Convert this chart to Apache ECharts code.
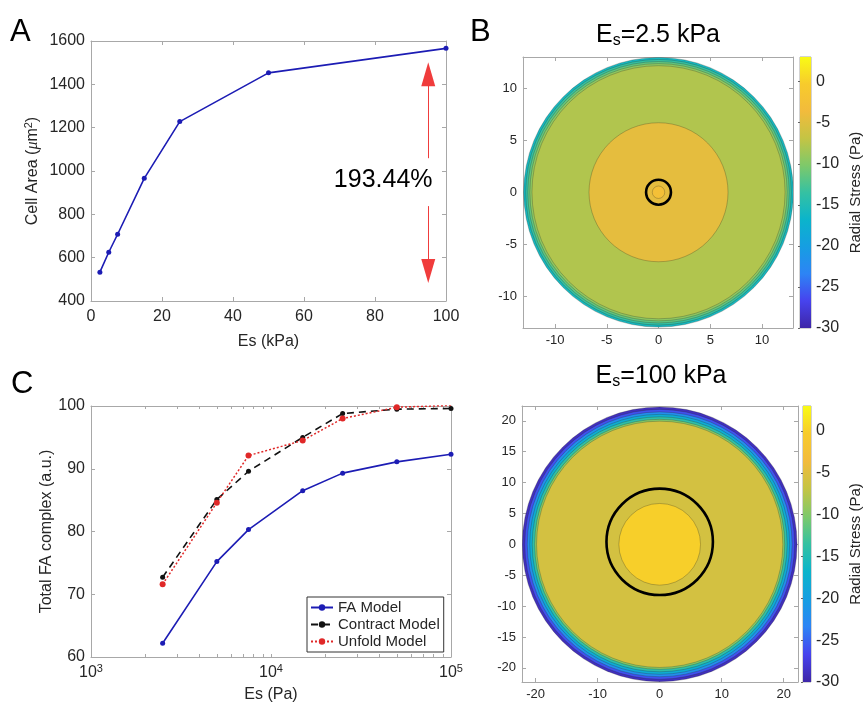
<!DOCTYPE html>
<html>
<head>
<meta charset="utf-8">
<script src="https://cdn.jsdelivr.net/npm/echarts@6/dist/echarts.min.js"></script>
<style>
html,body{margin:0;padding:0;background:#fff;}
#chart{width:864px;height:704px;}
</style>
</head>
<body>
<div id="chart"></div>
<script>
// ---- Data ----
const esKPa = [2.5, 5, 7.5, 15, 25, 50, 100];
const cellArea = [533, 625, 708, 966, 1228, 1453, 1566];
const annotationText = '193.44%';

const esPa = [2500, 5000, 7500, 15000, 25000, 50000, 100000];
const faModel = [62.2, 75.2, 80.3, 86.5, 89.3, 91.1, 92.3];
const contractModel = [72.7, 85.1, 89.6, 95.0, 98.8, 99.5, 99.6];
const unfoldModel = [71.6, 84.6, 92.1, 94.5, 98.0, 99.8, 100.1];
const seriesNamesC = ['FA Model', 'Contract Model', 'Unfold Model'];

// contour rings (disk radius in um, radial stress in Pa), outermost first
const ringRadiusB = [13.0, 12.8, 12.6, 12.4, 12.2, 6.7, 0.6];
const ringStressB = [-16, -13.5, -11.5, -9.5, -7.8, -4.5, -2.6];
const ringRadiusD = [22.2, 21.8, 21.4, 21.0, 20.6, 20.2, 19.9, 6.6];
const ringStressD = [-29, -26, -22, -18, -14, -10, -5.8, 0];
// black outline: [cx, cy, r]
const outlineB = [0, 0, 1.2];
const outlineD = [0, 0.4, 8.6];

const stressRange = [-30, 3];
const colorbarTicks = [0, -5, -10, -15, -20, -25, -30];
const ticksB = [-10, -5, 0, 5, 10];
const ticksDX = [-20, -10, 0, 10, 20];
const ticksDY = [-20, -15, -10, -5, 0, 5, 10, 15, 20];
const logMajorTicks = [1000, 10000, 100000];
const logAllTicks = [1000, 2000, 3000, 4000, 5000, 6000, 7000, 8000, 9000,
  10000, 20000, 30000, 40000, 50000, 60000, 70000, 80000, 90000, 100000];

const parula = ['#3e26a8', '#4743ee', '#2d84f5', '#169ee2', '#0bb4cb', '#35c1a2',
  '#7ec96a', '#c4c444', '#f2bb3c', '#f7cb2c', '#f9fb15'];

// ---- styles ----
const FONT = 'Liberation Sans, Arial, Helvetica, sans-serif';
const gray = '#a8a8a8';
const txt = '#262626';

function baseAxis(grid, extra) {
  return Object.assign({
    gridIndex: grid,
    type: 'value',
    axisLine: { show: true, onZero: false, lineStyle: { color: gray, width: 1 } },
    axisTick: { show: true, inside: true, length: 4, lineStyle: { color: gray } },
    splitLine: { show: false },
    axisLabel: { color: txt, fontSize: 16, fontFamily: FONT },
    nameTextStyle: { color: txt, fontSize: 16, fontFamily: FONT },
  }, extra);
}
function mirror(ax, pos) {
  const m = JSON.parse(JSON.stringify(ax));
  m.position = pos;
  m.axisLabel = Object.assign({}, m.axisLabel, { show: false });
  delete m.name;
  return m;
}
const plain = v => String(v);

const chart = echarts.init(document.getElementById('chart'), null, { renderer: 'canvas' });

// grids: 0 A, 1 C, 2 B, 3 D, 4 colorbar B, 5 colorbar D
const grids = [
  { left: 91, top: 41, width: 355, height: 260 },
  { left: 91, top: 406, width: 360, height: 251 },
  { left: 523, top: 57, width: 270, height: 271 },
  { left: 522, top: 406, width: 276, height: 276 },
  { left: 800, top: 57, width: 11, height: 271, show: true, borderColor: gray, borderWidth: 1 },
  { left: 803, top: 406, width: 13, height: 276, show: true, borderColor: gray, borderWidth: 1 },
];

const xA = baseAxis(0, { min: 0, max: 100, interval: 20, position: 'bottom',
  name: 'Es (kPa)', nameLocation: 'middle', nameGap: 33 });
xA.axisLabel.margin = 8;
xA.axisLabel.formatter = plain;
const yA = baseAxis(0, { min: 400, max: 1600, interval: 200, position: 'left',
  name: 'Cell Area ({i|μ}m{sup|2})', nameLocation: 'middle', nameGap: 48 });
yA.axisLabel.margin = 6;
yA.axisLabel.formatter = plain;
yA.nameTextStyle.rich = { i: { fontStyle: 'italic', fontSize: 16, fontFamily: 'Liberation Serif, serif' },
  sup: { fontSize: 11, padding: [0, 0, 9, 0] } };

const xC = baseAxis(1, { type: 'log', logBase: 10, min: 1000, max: 100000, position: 'bottom',
  name: 'Es (Pa)', nameLocation: 'middle', nameGap: 30 });
xC.axisLabel = Object.assign(xC.axisLabel, {
  customValues: logMajorTicks, margin: 6,
  formatter: v => '10{sup|' + Math.round(Math.log10(v)) + '}',
  rich: { sup: { fontSize: 11, padding: [0, 0, 9, 0], color: txt, fontFamily: FONT } }
});
xC.axisTick.customValues = logAllTicks;
xC.axisTick.length = 3;
const yC = baseAxis(1, { min: 60, max: 100, interval: 10, position: 'left',
  name: 'Total FA complex (a.u.)', nameLocation: 'middle', nameGap: 36 });
yC.axisLabel.margin = 6;

const xB = baseAxis(2, { min: -13.1, max: 13, position: 'bottom' });
xB.axisLabel = Object.assign(xB.axisLabel, { customValues: ticksB, fontSize: 13, margin: 6 });
xB.axisTick.customValues = ticksB;
const yB = baseAxis(2, { min: -13.05, max: 13, position: 'left' });
yB.axisLabel = Object.assign(yB.axisLabel, { customValues: ticksB, fontSize: 13, margin: 6 });
yB.axisTick.customValues = ticksB;

const xD = baseAxis(3, { min: -22.2, max: 22.3, position: 'bottom' });
xD.axisLabel = Object.assign(xD.axisLabel, { customValues: ticksDX, fontSize: 13, margin: 6 });
xD.axisTick.customValues = ticksDX;
const yD = baseAxis(3, { min: -22.3, max: 22.4, position: 'left' });
yD.axisLabel = Object.assign(yD.axisLabel, { customValues: ticksDY, fontSize: 13, margin: 6 });
yD.axisTick.customValues = ticksDY;

function cbX(grid) {
  return { gridIndex: grid, type: 'value', min: 0, max: 1, show: false };
}
function cbY(grid) {
  return {
    gridIndex: grid, type: 'value', position: 'right', min: stressRange[0], max: stressRange[1],
    axisLine: { show: false },
    axisTick: { show: true, inside: true, length: 2, customValues: colorbarTicks, lineStyle: { color: '#666' } },
    axisLabel: { customValues: colorbarTicks, color: txt, fontSize: 16, fontFamily: FONT, margin: 5 },
    splitLine: { show: false },
    name: 'Radial Stress (Pa)', nameLocation: 'middle', nameGap: 37,
    nameTextStyle: { color: txt, fontSize: 15, fontFamily: FONT }
  };
}

const xAxes = [xA, mirror(xA, 'top'), xC, mirror(xC, 'top'), xB, mirror(xB, 'top'),
  xD, mirror(xD, 'top'), cbX(4), cbX(5)];
const yAxes = [yA, mirror(yA, 'right'), yC, mirror(yC, 'right'), yB, mirror(yB, 'right'),
  yD, mirror(yD, 'right'), cbY(4), cbY(5)];

function ringRender(params, api) {
  const r = api.value(0);
  const c = api.coord([0, 0]);
  const s = api.size([r, r]);
  return {
    type: 'circle',
    shape: { cx: c[0], cy: c[1], r: (s[0] + s[1]) / 2 },
    style: { fill: api.visual('color'), stroke: 'rgba(40,40,30,0.45)', lineWidth: 0.6 }
  };
}
function outlineRender(params, api) {
  const c = api.coord([api.value(0), api.value(1)]);
  const s = api.size([api.value(2), api.value(2)]);
  return {
    type: 'circle',
    shape: { cx: c[0], cy: c[1], r: (s[0] + s[1]) / 2 },
    style: { fill: null, stroke: '#000', lineWidth: 2.6 }
  };
}
function colorbarRender(params, api) {
  const p0 = api.coord([0, api.value(1)]);
  const p1 = api.coord([1, api.value(0)]);
  return {
    type: 'rect',
    shape: { x: p0[0], y: p0[1], width: p1[0] - p0[0], height: p1[1] - p0[1] },
    style: {
      fill: new echarts.graphic.LinearGradient(0, 1, 0, 0,
        parula.map((c, i) => ({ offset: i / (parula.length - 1), color: c })))
    }
  };
}

const zip = (a, b) => a.map((v, i) => [v, b[i]]);
const blue = '#1c1cb4';
const red = '#f03c3c';

const series = [
  {
    type: 'line', xAxisIndex: 0, yAxisIndex: 0, data: zip(esKPa, cellArea),
    lineStyle: { color: blue, width: 1.6 }, itemStyle: { color: blue },
    symbol: 'circle', symbolSize: 5, z: 3,
    markLine: {
      silent: true, animation: false,
      lineStyle: { color: red, width: 1, type: 'solid' },
      label: { show: false },
      symbol: ['none', 'triangle'],
      data: [
        [{ coord: [95, 1059], symbol: 'none' }, { coord: [95, 1446], symbol: 'triangle', symbolSize: [14, 24] }],
        [{ coord: [95, 838], symbol: 'none' }, { coord: [95, 538], symbol: 'triangle', symbolSize: [14, 24] }]
      ]
    },
    markPoint: {
      silent: true, animation: false,
      symbol: 'circle', symbolSize: 0,
      label: { show: true, position: 'inside', formatter: annotationText, fontSize: 25, color: '#000', fontFamily: FONT },
      data: [{ coord: [82.3, 958] }]
    }
  },
  {
    name: seriesNamesC[0], type: 'line', xAxisIndex: 2, yAxisIndex: 2, data: zip(esPa, faModel),
    lineStyle: { color: blue, width: 1.6 }, itemStyle: { color: blue },
    symbol: 'circle', symbolSize: 5
  },
  {
    name: seriesNamesC[1], type: 'line', xAxisIndex: 2, yAxisIndex: 2, data: zip(esPa, contractModel),
    lineStyle: { color: '#111', width: 1.6, type: [7, 5] }, itemStyle: { color: '#111' },
    symbol: 'circle', symbolSize: 5
  },
  {
    name: seriesNamesC[2], type: 'line', xAxisIndex: 2, yAxisIndex: 2, data: zip(esPa, unfoldModel),
    lineStyle: { color: '#e02828', width: 1.5, type: [2, 2] }, itemStyle: { color: '#e02828' },
    symbol: 'circle', symbolSize: 6
  },
  { type: 'custom', xAxisIndex: 4, yAxisIndex: 4, data: zip(ringRadiusB, ringStressB),
    renderItem: ringRender, clip: true, silent: true },
  { type: 'custom', xAxisIndex: 4, yAxisIndex: 4, data: [outlineB],
    renderItem: outlineRender, clip: true, silent: true, z: 4 },
  { type: 'custom', xAxisIndex: 6, yAxisIndex: 6, data: zip(ringRadiusD, ringStressD),
    renderItem: ringRender, clip: true, silent: true },
  { type: 'custom', xAxisIndex: 6, yAxisIndex: 6, data: [outlineD],
    renderItem: outlineRender, clip: true, silent: true, z: 4 },
  { type: 'custom', xAxisIndex: 8, yAxisIndex: 8, data: [stressRange],
    renderItem: colorbarRender, silent: true },
  { type: 'custom', xAxisIndex: 9, yAxisIndex: 9, data: [stressRange],
    renderItem: colorbarRender, silent: true },
];

const titleRich = { s: { fontSize: 16, padding: [11, 0, 0, 0], fontFamily: FONT, fill: '#000' } };

chart.setOption({
  animation: false,
  textStyle: { fontFamily: FONT },
  grid: grids,
  xAxis: xAxes,
  yAxis: yAxes,
  visualMap: [{
    type: 'continuous', show: false, seriesIndex: [4, 6], dimension: 1,
    min: stressRange[0], max: stressRange[1], inRange: { color: parula }
  }],
  legend: {
    data: seriesNamesC,
    orient: 'vertical', left: 307, top: 597,
    itemWidth: 22, itemHeight: 8, itemGap: 2,
    padding: [3, 4, 3, 3],
    borderColor: '#333', borderWidth: 1, backgroundColor: '#fff',
    textStyle: { fontSize: 15, lineHeight: 14, color: txt, fontFamily: FONT }
  },
  graphic: [
    { type: 'text', left: 10, top: 17, style: { text: 'A', font: '31px ' + FONT, fill: '#000' } },
    { type: 'text', left: 470, top: 17, style: { text: 'B', font: '31px ' + FONT, fill: '#000' } },
    { type: 'text', left: 11, top: 369, style: { text: 'C', font: '31px ' + FONT, fill: '#000' } },
    { type: 'text', x: 658, y: 35, style: { text: 'E{s|s}=2.5 kPa', font: '25px ' + FONT, fill: '#000',
      align: 'center', verticalAlign: 'middle', rich: titleRich } },
    { type: 'text', x: 661, y: 376, style: { text: 'E{s|s}=100 kPa', font: '25px ' + FONT, fill: '#000',
      align: 'center', verticalAlign: 'middle', rich: titleRich } }
  ],
  series: series
});
</script>
</body>
</html>
